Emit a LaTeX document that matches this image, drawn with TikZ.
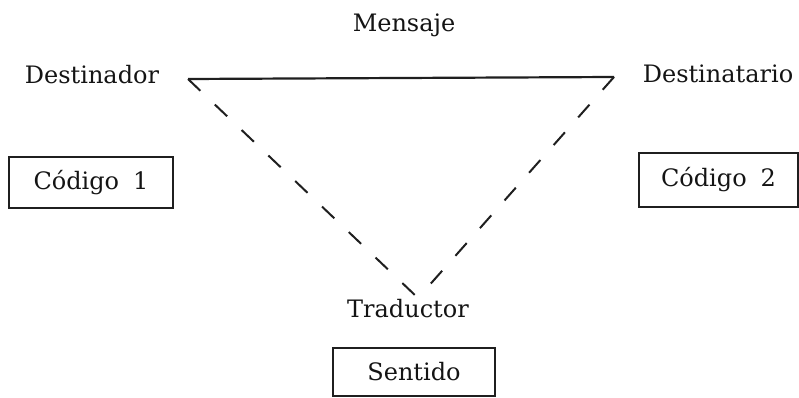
\documentclass[tikz,border=0pt]{standalone}
\usepackage{fontspec}
\setmainfont{DejaVu Serif}
\begin{document}
\begin{tikzpicture}[x=1pt,y=-1pt,
  lbl/.style={anchor=base,inner sep=0pt,font=\fontsize{24}{28}\selectfont,text=black!92},
  codebox/.style={draw=black!88,line width=1.5pt,inner sep=0pt,font=\fontsize{24}{28}\selectfont,text=black!92},
  solidline/.style={line width=2.2pt,draw=black!88},
  dashline/.style={line width=2pt,draw=black!88,dash pattern=on 17pt off 20pt}]
\useasboundingbox (0,0) rectangle (799,398);
\node[lbl] (mensaje) at (404,32) {Mensaje};
\node[lbl] (destinador) at (92,84) {Destinador};
\node[lbl] (destinatario) at (718,83) {Destinatario};
\node[lbl] (traductor) at (408,317) {Traductor};
\node[codebox,minimum width=164pt,minimum height=51pt] (cod1) at (91,182.5) {C\'odigo\hspace{14pt}1};
\node[codebox,minimum width=159pt,minimum height=54pt] (cod2) at (718.5,180) {C\'odigo\hspace{14pt}2\hspace{12pt}};
\node[codebox,minimum width=162pt,minimum height=48pt] (sentido) at (414,372) {Sentido};
\coordinate (dl) at (188,79);
\coordinate (dr) at (614,77);
\coordinate (tv) at (418,298);
\draw[solidline] (dl) -- (dr);
\draw[dashline] (dl) -- (tv);
\draw[dashline] (dr) -- (tv);
\end{tikzpicture}
\end{document}
